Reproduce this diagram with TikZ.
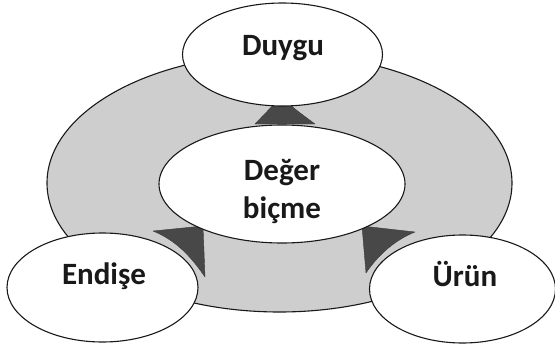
\documentclass[tikz,border=0pt]{standalone}
\usepackage{fontspec}
\setmainfont{Carlito}
\usetikzlibrary{shapes.geometric}
\definecolor{ringgray}{RGB}{206,206,206}
\definecolor{arrowgray}{RGB}{72,72,72}
\tikzset{
  oval/.style={ellipse, draw=black!90, line width=1.1pt, fill=white, inner sep=0pt},
  ring/.style={ellipse, draw=black!90, line width=1.1pt, fill=ringgray, inner sep=0pt},
  lbl/.style={anchor=base, inner sep=0pt, text=black!90, font=\fontsize{31}{38}\selectfont\bfseries},
  tip/.style={fill=arrowgray, draw=arrowgray!80!black, line width=0.4pt, line join=round}
}
\begin{document}
\begin{tikzpicture}[x=1pt,y=-1pt]
\useasboundingbox (0,0) rectangle (555,348);
% outer ring
\node[ring, minimum width=465pt, minimum height=258pt] (outer) at (279.5,183) {};
% arrow tips on the ring
\fill[tip] (255,124) .. controls (268,110) .. (281,97) .. controls (296,110) .. (315,124) -- cycle;
\fill[tip] (153,231) -- (203,226) -- (205,277) .. controls (190,255) and (175,240) .. cycle;
\fill[tip] (415,232) -- (362,226) -- (366,273) .. controls (378,255) and (395,240) .. cycle;
% nodes
\node[oval, minimum width=246pt, minimum height=118pt] (deger) at (282,184) {};
\node[oval, minimum width=200pt, minimum height=103pt] (duygu) at (282.5,54.5) {};
\node[oval, minimum width=191pt, minimum height=109pt] (endise) at (102.5,287.5) {};
\node[oval, minimum width=186pt, minimum height=108pt] (urun) at (462.5,289) {};
% labels
\node[lbl] (tduygu) at (283,55) {Duygu};
\node[lbl] (tdeger1) at (282,180) {Değer};
\node[lbl] (tdeger2) at (282,218) {biçme};
\node[lbl] (tendise) at (104,284) {Endişe};
\node[lbl] (turun) at (465,286) {Ürün};
\end{tikzpicture}
\end{document}
